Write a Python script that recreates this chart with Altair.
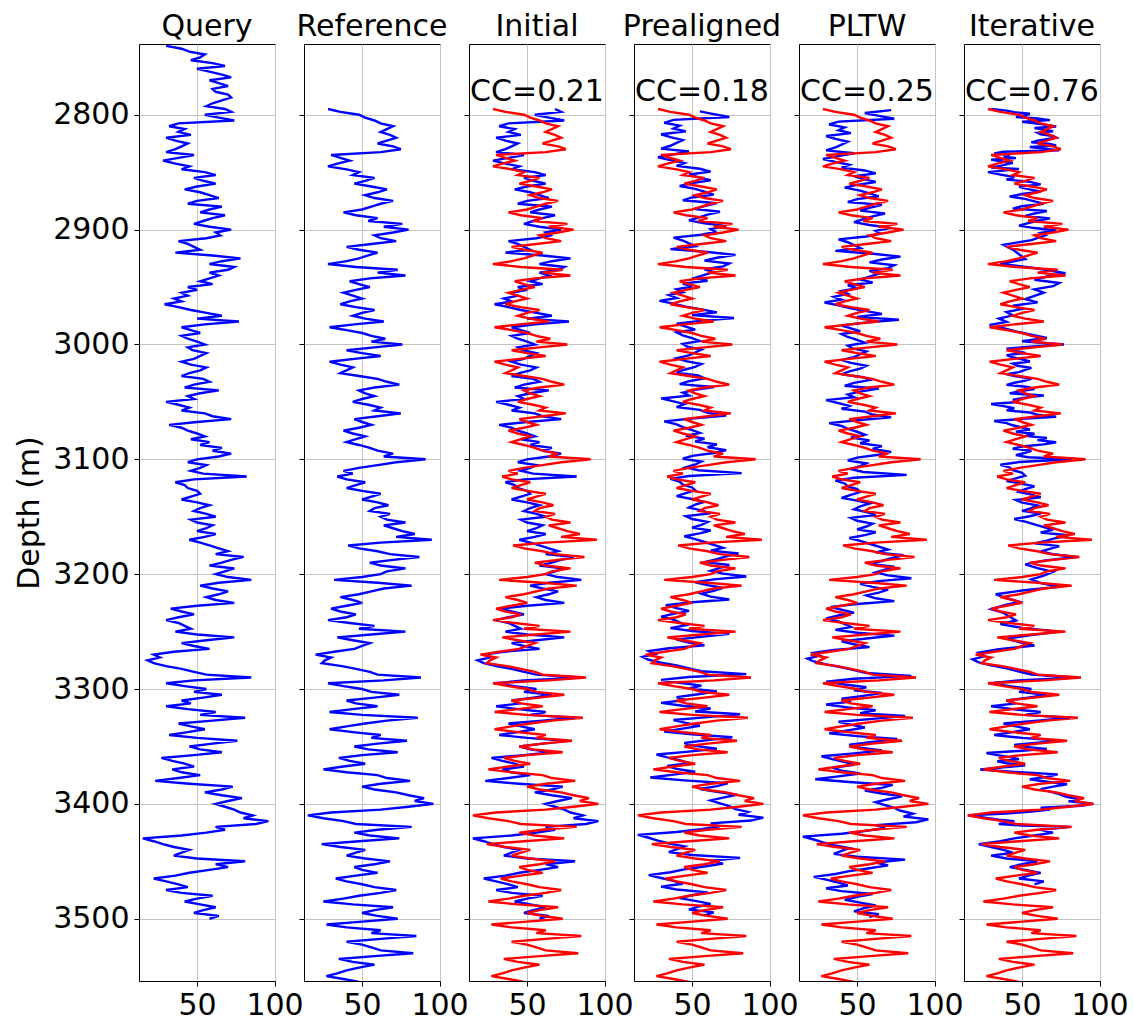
import altair as alt
import numpy as np
import pandas as pd

# Gamma-ray logs sampled every 2.5 m
STEP = 2.5
query_top = 2740.0
reference_top = 2795.0

query_gr = [
    30, 40, 45, 55, 52, 46, 60, 68, 50, 58, 66, 72, 58, 64, 70, 60, 62, 70, 72, 66,
    60, 56, 68, 72, 55, 64, 74, 38, 32, 42, 38, 46, 30, 36, 44, 40, 36, 30, 48, 38,
    28, 36, 45, 40, 55, 62, 48, 54, 62, 50, 42, 52, 58, 64, 50, 44, 66, 58, 52, 68,
    60, 54, 48, 58, 72, 62, 65, 56, 38, 44, 48, 52, 36, 60, 78, 66, 58, 74, 70, 58,
    64, 58, 52, 60, 44, 50, 40, 44, 35, 40, 29, 38, 46, 56, 66, 50, 77, 55, 40, 46,
    52, 40, 44, 50, 55, 44, 47, 56, 52, 48, 40, 46, 56, 52, 45, 40, 54, 58, 48, 42,
    64, 52, 44, 48, 30, 38, 45, 40, 55, 60, 72, 50, 32, 40, 44, 50, 55, 46, 58, 52,
    66, 60, 72, 64, 50, 44, 56, 52, 46, 54, 82, 48, 36, 42, 44, 50, 52, 46, 40, 50,
    58, 52, 48, 56, 62, 46, 50, 60, 56, 50, 62, 55, 45, 52, 58, 64, 70, 62, 80, 72,
    66, 58, 74, 68, 62, 70, 85, 64, 52, 60, 70, 64, 56, 62, 74, 50, 33, 40, 48, 38,
    30, 38, 42, 46, 36, 50, 74, 56, 40, 48, 58, 35, 22, 26, 18, 22, 30, 40, 48, 56,
    85, 48, 30, 42, 56, 48, 66, 54, 40, 46, 30, 44, 62, 52, 81, 60, 38, 46, 55, 44,
    32, 50, 76, 60, 45, 52, 66, 48, 27, 34, 42, 48, 34, 40, 52, 38, 23, 45, 73, 66,
    55, 66, 79, 70, 62, 68, 74, 78, 86, 80, 96, 88, 62, 68, 56, 40, 15, 22, 28, 35,
    45, 40, 35, 50, 81, 62, 70, 58, 45, 36, 22, 30, 38, 44, 30, 40, 60, 50, 42, 52,
    62, 54, 48, 64, 58,
]

reference_gr = [
    28, 36, 48, 52, 58, 62, 70, 66, 62, 68, 72, 66, 60, 70, 75, 62, 30, 36, 42, 34,
    28, 40, 48, 44, 58, 52, 45, 56, 66, 60, 52, 58, 70, 62, 56, 50, 38, 46, 60, 54,
    76, 64, 80, 70, 58, 62, 72, 56, 40, 48, 60, 54, 48, 40, 28, 46, 73, 60, 78, 55,
    42, 48, 55, 46, 38, 44, 50, 42, 36, 46, 58, 50, 44, 52, 64, 45, 29, 40, 50, 56,
    65, 56, 76, 58, 40, 50, 62, 45, 29, 36, 44, 40, 36, 48, 60, 66, 74, 58, 48, 52,
    58, 50, 44, 54, 62, 58, 75, 60, 45, 50, 56, 48, 38, 44, 52, 46, 40, 48, 55, 60,
    70, 64, 91, 72, 60, 48, 38, 44, 34, 40, 52, 46, 40, 50, 62, 56, 50, 60, 67, 58,
    55, 68, 62, 66, 78, 64, 70, 76, 84, 72, 95, 62, 41, 48, 60, 68, 87, 70, 55, 62,
    78, 66, 62, 50, 32, 60, 82, 64, 56, 48, 36, 44, 50, 40, 30, 36, 46, 40, 28, 42,
    58, 48, 78, 56, 34, 44, 55, 50, 45, 32, 20, 30, 26, 24, 37, 46, 55, 60, 88, 64,
    28, 38, 50, 56, 74, 58, 40, 46, 60, 44, 29, 50, 86, 66, 52, 40, 29, 44, 62, 56,
    79, 60, 45, 54, 73, 50, 35, 42, 52, 38, 25, 40, 60, 66, 81, 62, 50, 58, 72, 80,
    90, 84, 96, 80, 62, 30, 15, 25, 38, 46, 82, 60, 45, 55, 74, 48, 24, 36, 52, 46,
    40, 52, 68, 58, 45, 50, 60, 46, 33, 40, 50, 58, 72, 62, 48, 38, 25, 44, 70, 58,
    50, 60, 73, 50, 27, 40, 62, 56, 85, 62, 40, 50, 56, 62, 83, 58, 35, 44, 58, 48,
    40, 34, 27, 38, 48,
]

panel_titles = ["Query", "Reference", "Initial", "Prealigned", "PLTW", "Iterative"]
cc_labels = ["", "", "CC=0.21", "CC=0.18", "CC=0.25", "CC=0.76"]

# Depth shifts of the query for the simple alignments (m)
prealign_shift = -3.0
pltw_shift = -1.5

# Tie points of the iterative warp: query depth -> reference depth
iter_tie_query = [2740, 2807, 2840, 2905, 2925, 2980, 3115, 3205, 3255, 3273,
                  3290, 3325, 3345, 3380, 3415, 3430, 3450, 3465, 3500]
iter_tie_ref = [2795, 2832, 2850, 2905, 2938, 3000, 3100, 3185, 3250, 3272,
                3290, 3325, 3345, 3370, 3400, 3410, 3420, 3435, 3470]

y_ticks = [2800, 2900, 3000, 3100, 3200, 3300, 3400, 3500]
x_ticks = [50, 100]

query_depth = query_top + STEP * np.arange(len(query_gr))
reference_depth = reference_top + STEP * np.arange(len(reference_gr))

X_DOMAIN = [12.5, 100.3]
Y_DOMAIN = [2738.4, 3554.2]
W, H = 136, 937
BLUE, RED = "#0000ff", "#ff0000"
FONT = "DejaVu Sans"


def frame(depth, gr):
    return pd.DataFrame({"depth": depth, "gr": gr})


def clip_to_reference(depth, gr):
    depth = np.asarray(depth, dtype=float)
    gr = np.asarray(gr, dtype=float)
    keep = depth >= reference_depth[0]
    return frame(depth[keep], gr[keep])


query_df = frame(query_depth, query_gr)
reference_df = frame(reference_depth, reference_gr)
initial_df = clip_to_reference(query_depth, query_gr)
prealigned_df = clip_to_reference(query_depth + prealign_shift, query_gr)
pltw_df = clip_to_reference(query_depth + pltw_shift, query_gr)
iterative_df = frame(np.interp(query_depth, iter_tie_query, iter_tie_ref), query_gr)


def curve(df, color, show_y):
    if show_y:
        y_axis = alt.Axis(values=y_ticks, format="d", grid=True, title="Depth (m)",
                          labelPadding=5, titlePadding=8)
    else:
        y_axis = alt.Axis(values=y_ticks, format="d", grid=True, labels=False, title=None)
    x_axis = alt.Axis(values=x_ticks, grid=True, title=None, labelFlush=False,
                      labelOverlap=False, labelPadding=4)
    return alt.Chart(df).mark_line(color=color, strokeWidth=2.4, clip=True).encode(
        x=alt.X("gr:Q", scale=alt.Scale(domain=X_DOMAIN, nice=False, zero=False), axis=x_axis),
        y=alt.Y("depth:Q", scale=alt.Scale(domain=Y_DOMAIN, reverse=True, nice=False, zero=False),
                axis=y_axis),
        order="depth:Q",
    )


def label(text, y):
    return alt.Chart(pd.DataFrame({"t": [text]})).mark_text(
        font=FONT, fontSize=30, color="black", align="center", baseline="alphabetic"
    ).encode(text="t:N", x=alt.value(W / 2), y=alt.value(y))


def panel(i, curves):
    layers = list(curves) + [label(panel_titles[i], -8)]
    if cc_labels[i]:
        layers.append(label(cc_labels[i], 57))
    return alt.layer(*layers).properties(width=W, height=H)


panels = [
    panel(0, [curve(query_df, BLUE, True)]),
    panel(1, [curve(reference_df, BLUE, False)]),
]
for i, blue_df in zip(range(2, 6), [initial_df, prealigned_df, pltw_df, iterative_df]):
    panels.append(panel(i, [curve(blue_df, BLUE, False), curve(reference_df, RED, False)]))

chart = alt.hconcat(*panels, spacing=29, bounds="flush").properties(
    padding={"left": 14, "top": 11, "right": 5, "bottom": 2}
).configure_view(stroke="black", strokeWidth=1).configure_axis(
    labelFont=FONT, labelFontSize=30, labelColor="black",
    tickColor="black", tickSize=5, tickWidth=1, domain=False,
    gridColor="#c4c4c4", gridWidth=1,
    titleFont=FONT, titleFontSize=30, titleFontWeight="normal", titleColor="black",
)

chart.save("out.html", embed_options={"renderer": "svg", "actions": False})
